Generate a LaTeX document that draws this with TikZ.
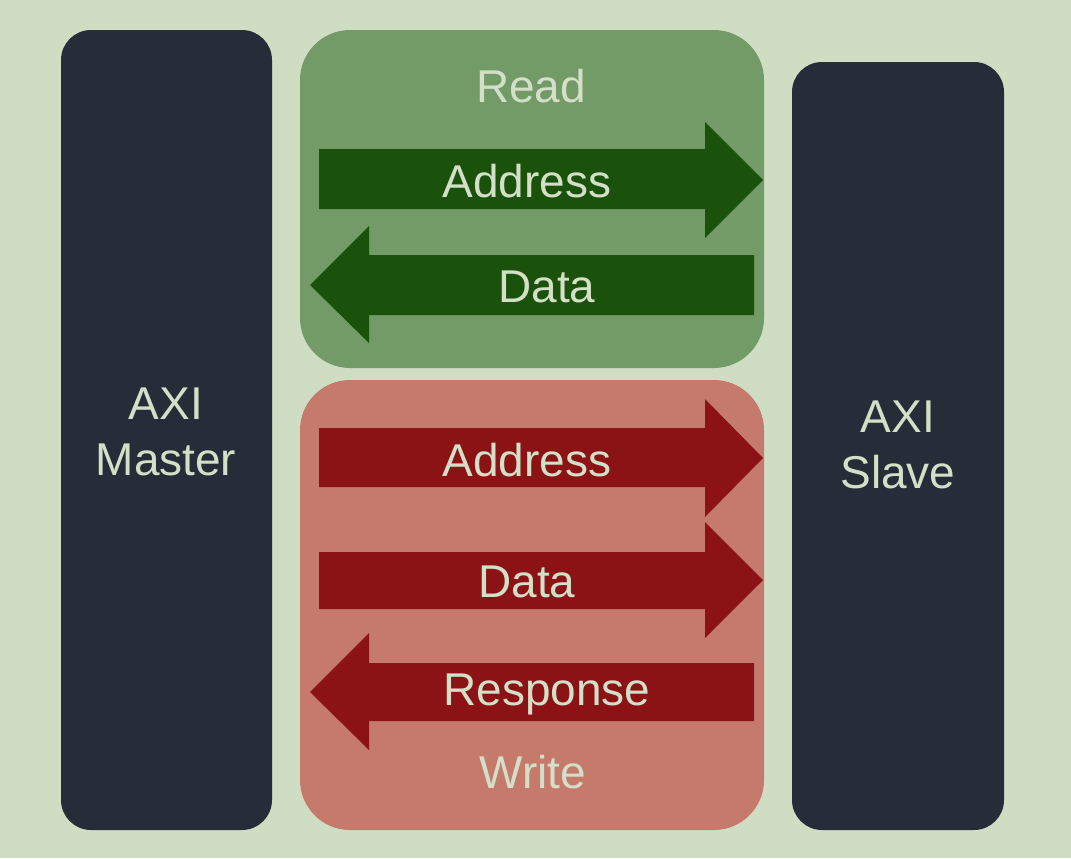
\documentclass[tikz,border=0pt]{standalone}
\usepackage{fontspec}
\setmainfont{Liberation Sans}
\begin{document}
\definecolor{bg}{HTML}{CFDEC3}
\definecolor{unit}{HTML}{262D38}
\definecolor{readbg}{HTML}{739B68}
\definecolor{readarr}{HTML}{1A520C}
\definecolor{writebg}{HTML}{C57A6C}
\definecolor{writearr}{HTML}{8B1315}
\definecolor{txt}{HTML}{D3DFC6}
\begin{tikzpicture}[x=0.025cm,y=-0.025cm,
  lbl/.style={text=txt,font=\fontsize{32.7}{40}\selectfont,inner sep=0pt,align=center},
  unitbox/.style={fill=unit,rounded corners=0.75cm},
  groupbox/.style={rounded corners=1.25cm}]
% canvas
\fill[bg] (0,0) rectangle (1071,858);
\useasboundingbox (0,0) rectangle (1071,858);
% master and slave
\fill[unitbox] (61,30) rectangle (272,830);
\fill[unitbox] (792,62) rectangle (1004,830);
\node[lbl] (master) at (166,432) {AXI\\Master};
\node[lbl] (slave) at (898,445) {AXI\\Slave};
% read channel group
\fill[groupbox,fill=readbg] (300,30) rectangle (764,368);
\node[lbl] (read) at (531,86) {Read};
\fill[readarr] (319,149) -- (705,149) -- (705,122) -- (763,180) -- (705,238) -- (705,209) -- (319,209) -- cycle;
\node[lbl] (raddr) at (527,181) {Address};
\fill[readarr] (754,255) -- (369,255) -- (369,226) -- (310,285) -- (369,343) -- (369,315) -- (754,315) -- cycle;
\node[lbl] (rdata) at (547,287) {Data};
% write channel group
\fill[groupbox,fill=writebg] (300,380) rectangle (764,830);
\fill[writearr] (319,428) -- (705,428) -- (705,399) -- (763,458) -- (705,517) -- (705,487) -- (319,487) -- cycle;
\node[lbl] (waddr) at (527,460) {Address};
\fill[writearr] (319,552) -- (705,552) -- (705,522) -- (763,580) -- (705,638) -- (705,609) -- (319,609) -- cycle;
\node[lbl] (wdata) at (527,582) {Data};
\fill[writearr] (754,663) -- (369,663) -- (369,633) -- (310,692) -- (369,750) -- (369,721) -- (754,721) -- cycle;
\node[lbl] (wresp) at (547,694) {Response};
\node[lbl] (write) at (533,772) {Write};
\end{tikzpicture}
\end{document}
